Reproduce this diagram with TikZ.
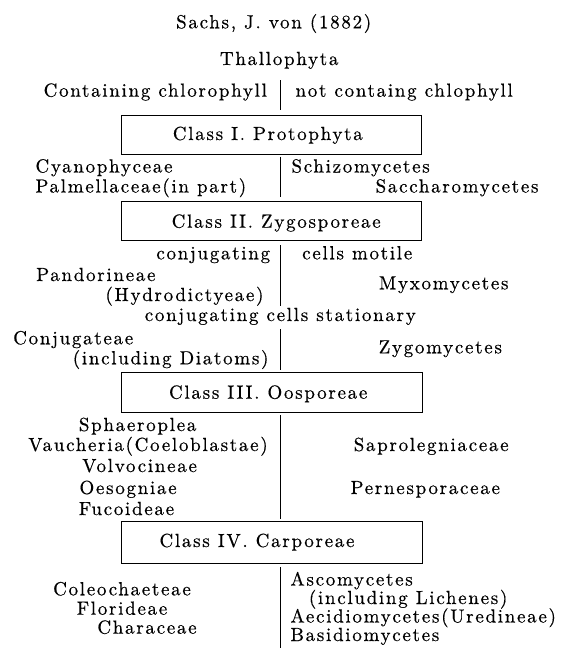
\documentclass[tikz,border=0pt]{standalone}
\usepackage{fontspec}
\newfontfamily\lsfont{lmroman10-regular.otf}[LetterSpace=9, FakeBold=0.45]
\begin{document}
\begin{tikzpicture}[x=1pt,y=-1pt,
  lbl/.style={inner sep=0pt, font=\lsfont\fontsize{19}{19}\selectfont},
  lw/.style={lbl, anchor=base west},
  le/.style={lbl, anchor=base east},
  lc/.style={lbl, anchor=base},
  classbox/.style={draw, line width=0.8pt, inner sep=0pt, rectangle},
  divider/.style={line width=0.8pt}]
\useasboundingbox (0,0) rectangle (563,648);
\fill[white] (0,0) rectangle (563,648);

% title and top
\node[lc] (title) at (273.7,28.3) {Sachs, J. von (1882)};
\node[lc] (thallo) at (279.2,65) {Thallophyta};
\node[lc] (chl) at (155.3,96.7) {Containing chlorophyll};
\node[lc] (nochl) at (404.2,96.7) {not containg chlophyll};

% class boxes
\node[classbox, minimum width=300pt, minimum height=39pt] (boxI) at (271.3,134.5) {};
\node[lc] (tI) at (267.8,140) {Class I. Protophyta};
\node[classbox, minimum width=300pt, minimum height=38.3pt] (boxII) at (271.3,220.85) {};
\node[lc] (tII) at (276.2,227.7) {Class II. Zygosporeae};
\node[classbox, minimum width=300.7pt, minimum height=40pt] (boxIII) at (271.65,392) {};
\node[lc] (tIII) at (268.2,398.7) {Class III. Oosporeae};
\node[classbox, minimum width=300.7pt, minimum height=42.4pt] (boxIV) at (271.65,542.5) {};
\node[lc] (tIV) at (257,547) {Class IV. Carporeae};

% Class I members
\node[lw] (cyano) at (35.3,172.5) {Cyanophyceae};
\node[lw] (palm) at (35.3,192.5) {Palmellaceae(in part)};
\node[lw] (schizo) at (291.3,172.5) {Schizomycetes};
\node[le] (sacch) at (538.7,192.5) {Saccharomycetes};

% Class II members
\node[le] (conj) at (270.3,259.3) {conjugating};
\node[lw] (motile) at (302,259.3) {cells motile};
\node[lw] (pando) at (36,281) {Pandorineae};
\node[le] (hydro) at (263.7,301) {(Hydrodictyeae)};
\node[lc] (myxo) at (443.7,289.3) {Myxomycetes};
\node[lc] (stat) at (280.3,321) {conjugating cells stationary};
\node[lw] (conjug) at (13,344.3) {Conjugateae};
\node[le] (diat) at (268.7,364.3) {(including Diatoms)};
\node[lc] (zygo) at (440.3,353.3) {Zygomycetes};

% Class III members
\node[lw] (sphae) at (78.7,431) {Sphaeroplea};
\node[lc] (vauch) at (148,451) {Vaucheria(Coeloblastae)};
\node[lw] (volvo) at (82,472) {Volvocineae};
\node[lw] (oeso) at (79.3,494) {Oesogniae};
\node[lw] (fuco) at (78.7,515) {Fucoideae};
\node[lc] (sapro) at (431.2,451) {Saprolegniaceae};
\node[lc] (perno) at (425.3,494) {Pernesporaceae};

% Class IV members
\node[lc] (coleo) at (122,595.3) {Coleochaeteae};
\node[lc] (flori) at (122,614.7) {Florideae};
\node[lc] (chara) at (147,633.7) {Characeae};
\node[lw] (asco) at (290.3,585.5) {Ascomycetes};
\node[lw] (lich) at (308.7,604) {(including Lichenes)};
\node[lw] (aecid) at (290.3,622.5) {Aecidiomycetes(Uredineae)};
\node[lw] (basid) at (290.3,641) {Basidiomycetes};

% dividers
\coordinate (d1a) at (280.3,80);
\coordinate (d1b) at (280.3,110);
\coordinate (d2a) at (280.3,156.7);
\coordinate (d2b) at (280.3,196.7);
\coordinate (d3a) at (280.3,245.3);
\coordinate (d3b) at (280.3,306);
\coordinate (d4a) at (280.3,329.3);
\coordinate (d4b) at (280.3,370);
\coordinate (d5a) at (280.3,415.3);
\coordinate (d5b) at (280.3,519);
\coordinate (d6a) at (280.3,567);
\coordinate (d6b) at (280.3,648);
\draw[divider] (d1a) -- (d1b);
\draw[divider] (d2a) -- (d2b);
\draw[divider] (d3a) -- (d3b);
\draw[divider] (d4a) -- (d4b);
\draw[divider] (d5a) -- (d5b);
\draw[divider] (d6a) -- (d6b);
\end{tikzpicture}
\end{document}
